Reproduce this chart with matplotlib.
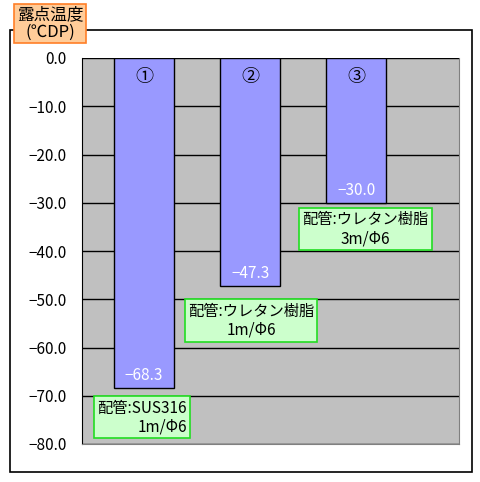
import matplotlib
matplotlib.use('Agg')
import matplotlib.pyplot as plt
from matplotlib.patches import Rectangle
from matplotlib.ticker import FuncFormatter

plt.rcParams['font.family'] = ['Noto Sans CJK JP', 'DejaVu Sans']

# data
labels = ['①', '②', '③']
dew_points = [-68.3, -47.3, -30.0]
notes = ['配管:SUS316\n1m/Φ6', '配管:ウレタン樹脂\n1m/Φ6', '配管:ウレタン樹脂\n3m/Φ6']
note_x = [-0.02, 1.01, 2.09]
note_y = [-74.5, -54.4, -35.5]
note_align = ['right', 'center', 'center']
y_ticks = [0, -10, -20, -30, -40, -50, -60, -70, -80]

fig = plt.figure(figsize=(4.8, 4.82), dpi=100)

# outer frame
fig.patches.append(Rectangle((10 / 480, 1 - 472 / 482), 462 / 480, 442 / 482,
                             transform=fig.transFigure, fill=False,
                             edgecolor='black', linewidth=1.2))

ax = fig.add_axes([82 / 480, 1 - 444 / 482, 377 / 480, 386 / 482])
ax.set_facecolor('#C0C0C0')

x = range(len(dew_points))
ax.bar(x, dew_points, width=0.57, color='#9999FF', edgecolor='black',
       linewidth=1, zorder=3)

for xi, v, lab in zip(x, dew_points, labels):
    ax.text(xi, -4.0, lab, ha='center', va='center', fontsize=13, zorder=4)
    ax.text(xi, v + 2.6, f'{v:.1f}'.replace('-', '−'), ha='center', va='center',
            color='white', fontsize=11, zorder=4)

for nx, ny, t, al in zip(note_x, note_y, notes, note_align):
    ax.text(nx, ny, t, ha='center', va='center', multialignment=al,
            fontsize=11, linespacing=1.15, zorder=5,
            bbox=dict(boxstyle='square,pad=0.2', facecolor='#CCFFCC',
                      edgecolor='#22DD22', linewidth=1.2))

ax.set_ylim(-80, 0)
ax.set_xlim(-0.585, 2.97)
ax.set_yticks(y_ticks)
ax.yaxis.set_major_formatter(FuncFormatter(lambda v, p: f'{v:.1f}'.replace('-', '−')))
ax.tick_params(axis='y', length=0, pad=11, labelsize=11)
ax.set_xticks([])
ax.grid(axis='y', color='black', linewidth=1, zorder=1)
ax.set_axisbelow(True)
ax.spines['top'].set_visible(False)
ax.spines['left'].set_color('black')
ax.spines['right'].set_color('#808080')
ax.spines['bottom'].set_color('#808080')

# axis title box
fig.text(50 / 480, 1 - 23.5 / 482, '露点温度\n(℃DP)', ha='center', va='center',
         fontsize=12, linespacing=1.0,
         bbox=dict(boxstyle='square,pad=0.15', facecolor='#FFCC99',
                   edgecolor='#FF7F27', linewidth=1.2))

plt.savefig('out.png', dpi=100)
plt.close()
